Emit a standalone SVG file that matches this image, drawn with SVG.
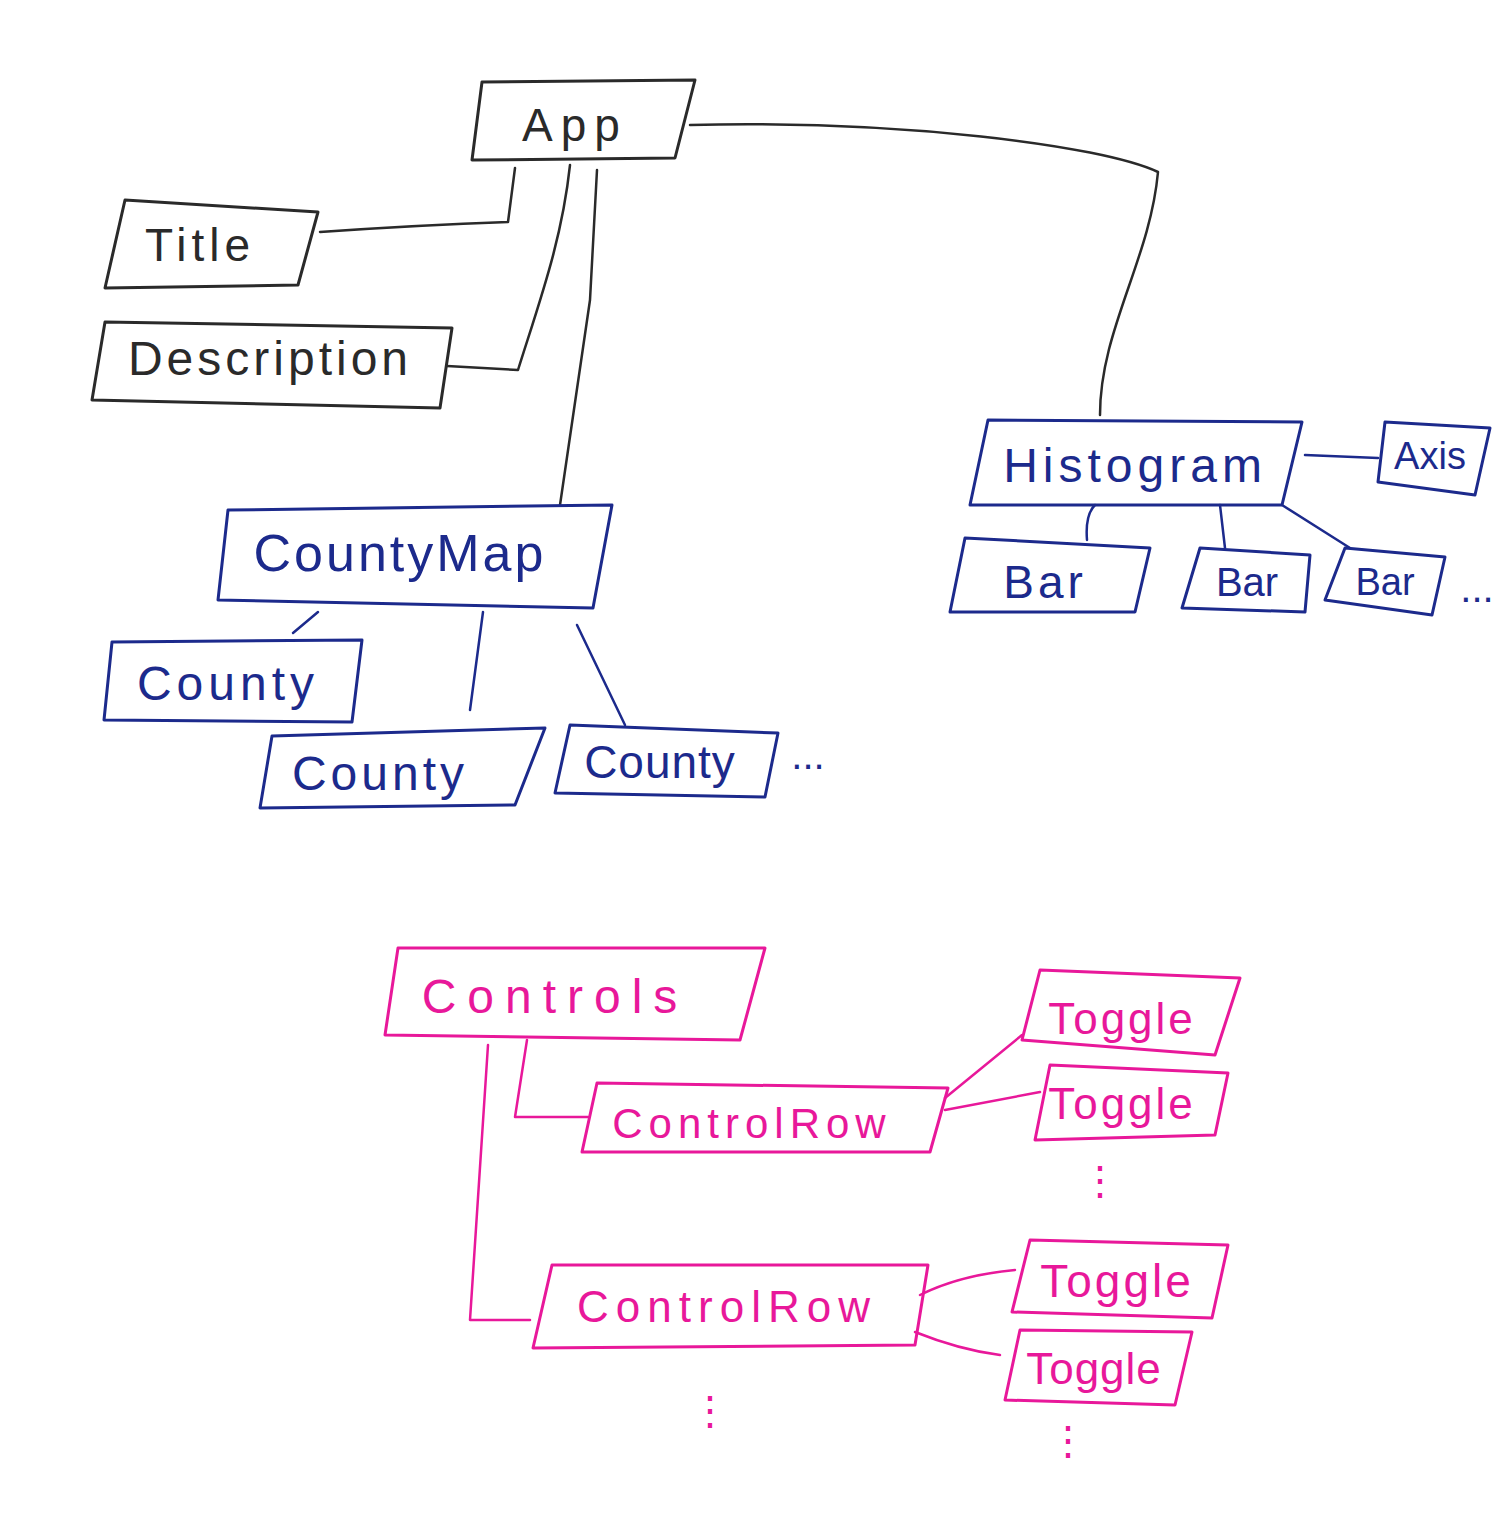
<svg xmlns="http://www.w3.org/2000/svg" width="1512" height="1521" viewBox="0 0 1512 1521">
<style>
.box{fill:none;stroke-width:3;stroke-linejoin:round;stroke-linecap:round}
.k{stroke:#2a2a2a}.b{stroke:#1c2a8c}.p{stroke:#e8189a}
.t{font-family:"Liberation Sans","DejaVu Sans",sans-serif;text-anchor:middle;dominant-baseline:central}
.tk{fill:#2a2a2a}.tb{fill:#1c2a8c}.tp{fill:#e8189a}
.c{fill:none;stroke-width:2.5;stroke-linecap:round;stroke-linejoin:round}
.dots{font-family:"Liberation Sans",sans-serif;font-size:40px}
</style>
<rect width="1512" height="1521" fill="#ffffff"/>
<g id="connectors">
<path class="c k" d="M515,168 L508,222 Q420,225 320,232"/>
<path class="c k" d="M570,165 C562,240 540,300 518,370 L447,366"/>
<path class="c k" d="M597,170 L590,300 L560,505"/>
<path class="c k" d="M690,125 C900,120 1100,145 1158,172 C1150,260 1100,330 1100,415"/>
<path class="c b" d="M318,612 L293,633"/>
<path class="c b" d="M483,612 L470,710"/>
<path class="c b" d="M577,625 L625,725"/>
<path class="c b" d="M1305,455 L1378,458"/>
<path class="c b" d="M1095,505 Q1085,515 1087,540"/>
<path class="c b" d="M1220,505 L1225,548"/>
<path class="c b" d="M1282,505 L1350,548"/>
<path class="c p" d="M527,1040 L515,1117 L588,1117"/>
<path class="c p" d="M488,1045 L470,1320 L530,1320"/>
<path class="c p" d="M945,1098 L1022,1035"/>
<path class="c p" d="M945,1110 L1040,1092"/>
<path class="c p" d="M920,1295 Q960,1275 1015,1270"/>
<path class="c p" d="M915,1332 Q960,1350 1000,1355"/>
</g>
<g id="app"><path class="box k" d="M482,82 L695,80 L675,158 L472,160 Z"/><text class="t tk" x="575" y="125" font-size="46" letter-spacing="8">App</text></g>
<g id="title"><path class="box k" d="M125,200 L318,212 L298,285 L105,288 Z"/><text class="t tk" x="200" y="245" font-size="46" letter-spacing="5">Title</text></g>
<g id="description"><path class="box k" d="M105,322 L452,328 L440,408 L92,400 Z"/><text class="t tk" x="270" y="358" font-size="48" letter-spacing="4">Description</text></g>
<g id="countymap"><path class="box b" d="M228,510 L612,505 L593,608 L218,600 Z"/><text class="t tb" x="400" y="553" font-size="52" letter-spacing="3">CountyMap</text></g>
<g id="county1"><path class="box b" d="M112,642 L362,640 L352,722 L104,720 Z"/><text class="t tb" x="228" y="683" font-size="48" letter-spacing="5">County</text></g>
<g id="county2"><path class="box b" d="M272,736 L545,728 L515,805 L260,808 Z"/><text class="t tb" x="380" y="773" font-size="48" letter-spacing="4">County</text></g>
<g id="county3"><path class="box b" d="M570,725 L778,733 L765,797 L555,793 Z"/><text class="t tb" x="660" y="762" font-size="46" letter-spacing="1">County</text></g>
<text class="t tb dots" x="808" y="755">...</text>
<g id="histogram"><path class="box b" d="M988,420 L1302,422 L1282,505 L970,505 Z"/><text class="t tb" x="1135" y="465" font-size="48" letter-spacing="5">Histogram</text></g>
<g id="axis"><path class="box b" d="M1385,422 L1490,428 L1475,495 L1378,482 Z"/><text class="t tb" x="1430" y="456" font-size="38">Axis</text></g>
<g id="bar1"><path class="box b" d="M965,538 L1150,548 L1135,612 L950,612 Z"/><text class="t tb" x="1045" y="582" font-size="46" letter-spacing="4">Bar</text></g>
<g id="bar2"><path class="box b" d="M1200,548 L1310,555 L1305,612 L1182,608 Z"/><text class="t tb" x="1247" y="582" font-size="40">Bar</text></g>
<g id="bar3"><path class="box b" d="M1345,548 L1445,557 L1432,615 L1325,600 Z"/><text class="t tb" x="1385" y="582" font-size="38">Bar</text></g>
<text class="t tb dots" x="1477" y="588">...</text>
<g id="controls"><path class="box p" d="M398,948 L765,948 L740,1040 L385,1035 Z"/><text class="t tp" x="555" y="996" font-size="48" letter-spacing="11">Controls</text></g>
<g id="controlrow1"><path class="box p" d="M597,1083 L948,1088 L930,1152 L582,1152 Z"/><text class="t tp" x="752" y="1123" font-size="42" letter-spacing="6">ControlRow</text></g>
<g id="toggle1"><path class="box p" d="M1040,970 L1240,978 L1215,1055 L1022,1040 Z"/><text class="t tp" x="1122" y="1018" font-size="44" letter-spacing="3">Toggle</text></g>
<g id="toggle2"><path class="box p" d="M1050,1065 L1228,1073 L1215,1135 L1035,1140 Z"/><text class="t tp" x="1122" y="1103" font-size="44" letter-spacing="3">Toggle</text></g>
<text class="t tp dots" x="1100" y="1180">⋮</text>
<g id="controlrow2"><path class="box p" d="M552,1265 L928,1265 L915,1345 L533,1348 Z"/><text class="t tp" x="727" y="1306" font-size="44" letter-spacing="7">ControlRow</text></g>
<g id="toggle3"><path class="box p" d="M1030,1240 L1228,1245 L1212,1318 L1012,1312 Z"/><text class="t tp" x="1117" y="1281" font-size="46" letter-spacing="3">Toggle</text></g>
<g id="toggle4"><path class="box p" d="M1020,1330 L1192,1332 L1175,1405 L1005,1400 Z"/><text class="t tp" x="1094" y="1368" font-size="44" letter-spacing="1">Toggle</text></g>
<text class="t tp dots" x="710" y="1410">⋮</text>
<text class="t tp dots" x="1068" y="1440">⋮</text>
</svg>
